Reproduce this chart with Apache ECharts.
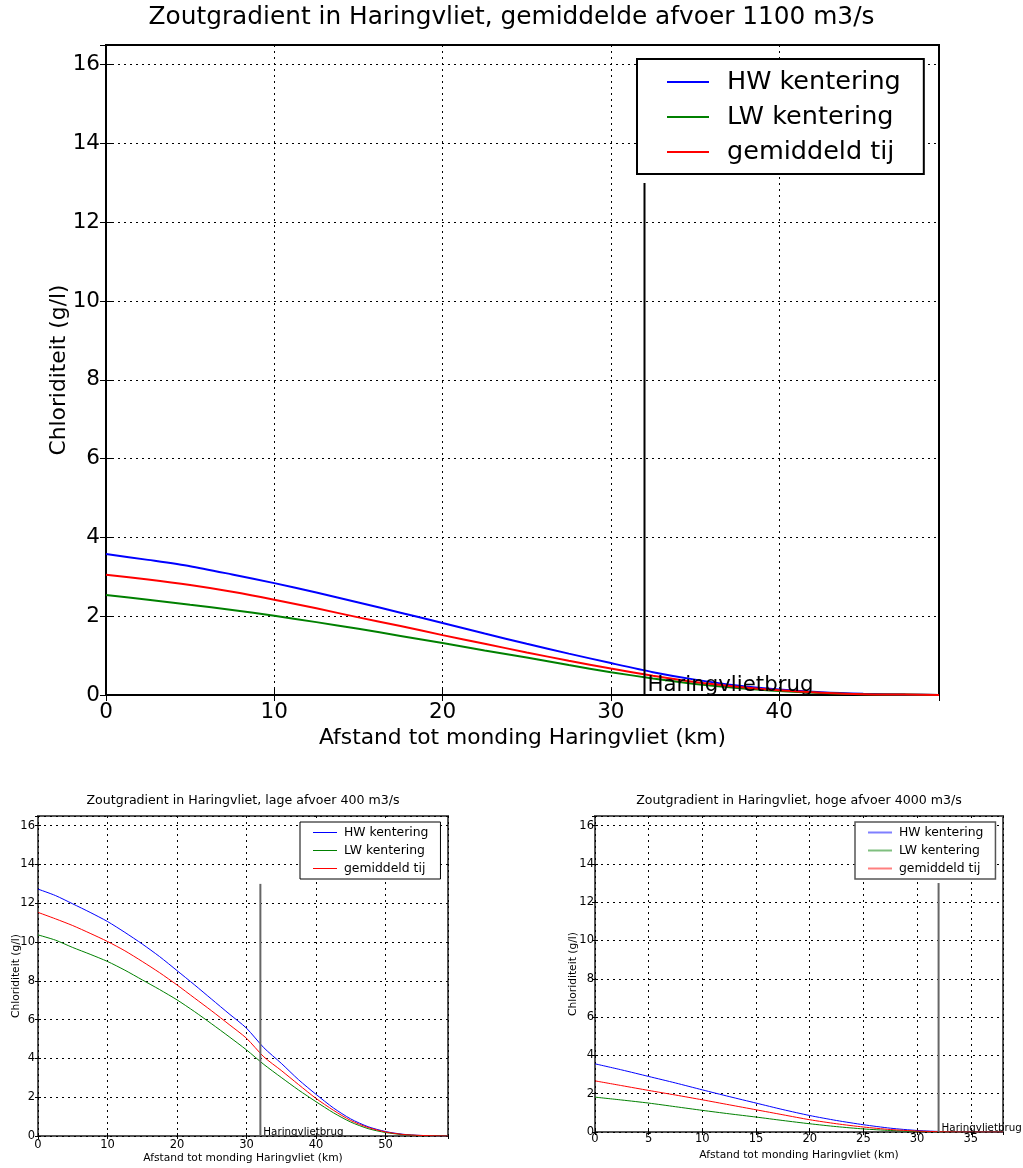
<!DOCTYPE html>
<html><head><meta charset="utf-8">
<script src="https://cdn.jsdelivr.net/npm/echarts@6/dist/echarts.min.js"></script>
<style>html,body{margin:0;padding:0;background:#fff}#c{width:1023px;height:1168px}</style>
</head><body><div id="c"></div>
<script>
// ---- data ----
const SERIES_NAMES = ['HW kentering', 'LW kentering', 'gemiddeld tij'];
const TITLES = [
  'Zoutgradient in Haringvliet, gemiddelde afvoer 1100 m3/s',
  'Zoutgradient in Haringvliet, lage afvoer 400 m3/s',
  'Zoutgradient in Haringvliet, hoge afvoer 4000 m3/s'
];
const X_NAME = 'Afstand tot monding Haringvliet (km)';
const Y_NAME = 'Chloriditeit (g/l)';
const BRIDGE_KM = 32, BRIDGE_TOP = 13, BRIDGE_LABEL = 'Haringvlietbrug';

// gemiddelde afvoer 1100 m3/s
const km_1100 = [0,2.5,5,7.5,10,12.5,15,17.5,20,22.5,25,27.5,30,32.5,35,37.5,40,42.5,45,47.5,49.5];
const hw_1100 = [3.58,3.43,3.27,3.06,2.84,2.60,2.35,2.09,1.83,1.56,1.30,1.05,0.81,0.58,0.39,0.24,0.14,0.07,0.03,0.01,0.0];
const lw_1100 = [2.54,2.42,2.29,2.16,2.01,1.85,1.68,1.50,1.32,1.13,0.95,0.76,0.58,0.42,0.28,0.18,0.10,0.05,0.02,0.01,0.0];
const gem_1100 = [3.05,2.93,2.79,2.62,2.42,2.20,1.97,1.75,1.52,1.30,1.08,0.87,0.67,0.49,0.33,0.21,0.12,0.06,0.02,0.01,0.0];

// lage afvoer 400 m3/s
const km_400 = [0,2.5,5,7.5,10,12.5,15,17.5,20,22.5,25,27.5,30,32.5,35,37.5,40,42.5,45,47.5,50,52.5,55,57.5,59];
const hw_400 = [12.73,12.40,11.97,11.53,11.06,10.50,9.90,9.25,8.53,7.80,7.05,6.30,5.56,4.55,3.75,2.90,2.15,1.45,0.88,0.48,0.23,0.09,0.03,0.01,0.0];
const lw_400 = [10.37,10.10,9.72,9.37,9.00,8.55,8.05,7.55,7.02,6.42,5.78,5.12,4.44,3.69,3.02,2.37,1.77,1.20,0.72,0.38,0.18,0.07,0.02,0.01,0.0];
const gem_400 = [11.53,11.20,10.85,10.45,10.03,9.55,9.00,8.42,7.79,7.12,6.45,5.75,5.04,4.08,3.38,2.65,1.94,1.33,0.80,0.44,0.21,0.08,0.03,0.01,0.0];

// hoge afvoer 4000 m3/s
const km_4000 = [0,2.5,5,7.5,10,12.5,15,17.5,20,22.5,25,27.5,30,32.5,35,38];
const hw_4000 = [3.56,3.24,2.90,2.56,2.20,1.85,1.51,1.17,0.86,0.60,0.38,0.20,0.08,0.02,0.01,0.0];
const lw_4000 = [1.82,1.67,1.51,1.32,1.13,0.95,0.78,0.60,0.43,0.28,0.16,0.08,0.03,0.01,0.0,0.0];
const gem_4000 = [2.67,2.42,2.17,1.93,1.68,1.42,1.16,0.90,0.64,0.43,0.26,0.13,0.05,0.01,0.0,0.0];

const X_MAX = [49.5, 59, 38];
const X_INTERVAL = [10, 10, 5];
const Y_MAX = 16.5, Y_INTERVAL = 2;

// ---- build ----
const COLORS = ['#0000ff', '#008000', '#ff0000'];
const FONT = 'DejaVu Sans';
const DATA = [
  [km_1100, [hw_1100, lw_1100, gem_1100]],
  [km_400, [hw_400, lw_400, gem_400]],
  [km_4000, [hw_4000, lw_4000, gem_4000]]
];
const GRIDS = [
  {left: 106, top: 45, width: 833, height: 650},
  {left: 38, top: 816, width: 410, height: 320},
  {left: 595, top: 816, width: 408, height: 316}
];
const STY = [
  {tick: 21.5, name: 21.8, title: 24.8, frame: '#000', fw: 2, lw: 2, tl: 6, lm: 6, xng: 32, yng: 36, bridge: 21.3, titleX: 511.5, titleY: 18},
  {tick: 11.5, name: 10.7, title: 12.6, frame: '#555', fw: 2, lw: 1, tl: 3, lm: 3, xng: 17, yng: 16, bridge: 10.3, titleX: 243, titleY: 801},
  {tick: 11.5, name: 10.7, title: 12.6, frame: '#555', fw: 2, lw: 1, tl: 3, lm: 1, xng: 18, yng: 16, bridge: 10.3, titleX: 799, titleY: 801}
];

const xAxis = [], yAxis = [], series = [], graphic = [];
for (let i = 0; i < 3; i++) {
  const s = STY[i];
  const tickStyle = {show: true, inside: true, length: s.tl, lineStyle: {color: '#000', width: 1}};
  const split = {show: true, lineStyle: {color: '#000', type: [2, 4], width: 1}};
  xAxis.push({
    type: 'value', gridIndex: i, min: 0, max: X_MAX[i], interval: X_INTERVAL[i],
    name: X_NAME, nameLocation: 'middle', nameGap: s.xng, nameMoveOverlap: false,
    nameTextStyle: {fontFamily: FONT, fontSize: s.name, color: '#000'},
    axisLine: {show: false}, axisTick: tickStyle, splitLine: split,
    axisLabel: {fontFamily: FONT, fontSize: s.tick, color: '#000', margin: s.lm, showMaxLabel: false}
  });
  xAxis.push({
    type: 'value', gridIndex: i, min: 0, max: X_MAX[i], interval: X_INTERVAL[i], position: 'top',
    axisLine: {show: false}, axisTick: tickStyle, splitLine: {show: false}, axisLabel: {show: false}
  });
  yAxis.push({
    type: 'value', gridIndex: i, min: 0, max: Y_MAX, interval: Y_INTERVAL,
    name: Y_NAME, nameLocation: 'middle', nameGap: s.yng, nameMoveOverlap: false,
    nameTextStyle: {fontFamily: FONT, fontSize: s.name, color: '#000'},
    axisLine: {show: false}, axisTick: tickStyle, splitLine: split,
    axisLabel: {fontFamily: FONT, fontSize: s.tick, color: '#000', margin: s.lm, showMaxLabel: false}
  });
  yAxis.push({
    type: 'value', gridIndex: i, min: 0, max: Y_MAX, interval: Y_INTERVAL, position: 'right',
    axisLine: {show: false}, axisTick: tickStyle, splitLine: {show: false}, axisLabel: {show: false}
  });
  const [km, ys] = DATA[i];
  for (let k = 0; k < 3; k++) {
    series.push({
      type: 'line', name: SERIES_NAMES[k], xAxisIndex: 2 * i, yAxisIndex: 2 * i,
      data: km.map((x, j) => [x, ys[k][j]]),
      showSymbol: false, symbol: 'none', smooth: 0.25,
      lineStyle: {color: COLORS[k], width: s.lw}, itemStyle: {color: COLORS[k]},
      silent: true, animation: false, z: 3
    });
  }
  series.push({
    type: 'line', name: 'bridge', xAxisIndex: 2 * i, yAxisIndex: 2 * i,
    data: [
      {value: [BRIDGE_KM, 0], label: {show: true, formatter: BRIDGE_LABEL, position: [3, 1],
        align: 'left', verticalAlign: 'bottom', fontFamily: FONT, fontSize: s.bridge, color: '#000'}},
      [BRIDGE_KM, BRIDGE_TOP]
    ],
    symbol: 'circle', symbolSize: 0.01, showSymbol: true,
    lineStyle: {color: i === 0 ? '#000' : '#666', width: s.fw}, itemStyle: {color: 'transparent'},
    silent: true, animation: false, z: 4
  });
  graphic.push({
    type: 'text', x: s.titleX, y: s.titleY,
    style: {text: TITLES[i], fontFamily: FONT, fontSize: s.title, fill: '#000', align: 'center', verticalAlign: 'middle'}
  });
}

const grid = GRIDS.map((g, i) => Object.assign({show: true, borderColor: STY[i].frame, borderWidth: STY[i].fw, backgroundColor: 'transparent'}, g));

const legend = [
  {left: 637, top: 59, orient: 'vertical', data: SERIES_NAMES, padding: [10, 23, 9, 30], icon: 'rect',
   itemWidth: 42, itemHeight: 2, itemGap: 9, borderColor: '#000', borderWidth: 2, backgroundColor: '#fff',
   textStyle: {fontFamily: FONT, fontSize: 25.5, lineHeight: 25.5, color: '#000', padding: [0, 0, 0, 13]}, selectedMode: false},
  {left: 300, top: 822, orient: 'vertical', data: SERIES_NAMES, padding: [4, 12, 4, 13], icon: 'rect',
   itemWidth: 24, itemHeight: 1, itemGap: 5, borderColor: '#000', borderWidth: 1, backgroundColor: '#fff',
   textStyle: {fontFamily: FONT, fontSize: 12.4, lineHeight: 13, color: '#000', padding: [0, 0, 0, 2]}, selectedMode: false},
  {left: 855, top: 822, orient: 'vertical', padding: [4, 12, 4, 13], icon: 'rect',
   data: SERIES_NAMES.map(n => ({name: n, itemStyle: {opacity: 0.5}})),
   itemWidth: 24, itemHeight: 2, itemGap: 5, borderColor: '#555', borderWidth: 1.5, backgroundColor: '#fff',
   textStyle: {fontFamily: FONT, fontSize: 12.4, lineHeight: 13, color: '#000', padding: [0, 0, 0, 2]}, selectedMode: false}
];

const chart = echarts.init(document.getElementById('c'), null, {renderer: 'canvas'});
chart.setOption({backgroundColor: '#fff', animation: false, grid, xAxis, yAxis, series, legend, graphic});
</script></body></html>
